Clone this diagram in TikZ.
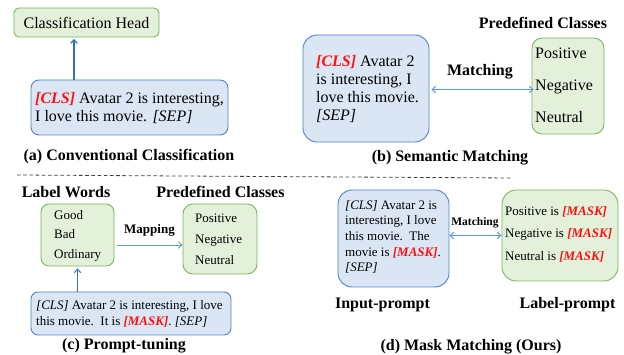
\documentclass[tikz,border=0pt]{standalone}
\usepackage{fontspec}
\setmainfont{Liberation Serif}
\usetikzlibrary{arrows.meta}

\definecolor{bfill}{HTML}{DAE6F4}
\definecolor{bbord}{HTML}{4F81CF}
\definecolor{gfill}{HTML}{E3F0DA}
\definecolor{gbord}{HTML}{7AB755}
\definecolor{arrA}{HTML}{2E75B6}
\definecolor{arrB}{HTML}{5B9BD5}
\definecolor{mred}{HTML}{FF1010}

% special tokens printed in bold italic red, or plain italic
\newcommand{\redtok}[1]{\textcolor{mred}{\textbf{\textit{#1}}}}
\newcommand{\itok}[1]{\textit{#1}}

\tikzset{
  bluebox/.style={draw=bbord, fill=bfill, line width=0.9pt, inner sep=0pt},
  greenbox/.style={draw=gbord, fill=gfill, line width=0.9pt, inner sep=0pt},
  txt/.style={inner sep=0pt, align=left, anchor=north west},
  lbl/.style={inner sep=0pt, anchor=base, font=\fontsize{16}{18}\selectfont\bfseries},
  barb/.tip={Straight Barb[length=3.5pt,width=6.5pt]},
  conn/.style={line width=1pt, draw=arrB},
}

\begin{document}
\begin{tikzpicture}[x=1pt,y=-1pt]
\useasboundingbox (0,0) rectangle (624,355);

% ---------------- (a) conventional classification
\node[greenbox, rounded corners=5pt, minimum width=145pt, minimum height=29pt]
  (head) at (86.5,22.5) {};
\node[inner sep=0pt, font=\fontsize{16}{18}\selectfont] (headt) at (head.center) {Classification Head};
\node[bluebox, rounded corners=8pt, minimum width=197pt, minimum height=55pt]
  (ina) at (129.5,107.5) {};
\node[txt, font=\fontsize{16}{18}\selectfont] (inat) at (35,92)
  {\redtok{[CLS]} Avatar 2 is interesting,\\ I love this movie. \itok{[SEP]}};
\coordinate (ax) at (74,60);
\draw[conn, line width=1.2pt, draw=arrA, -barb] (ax |- ina.north) -- ([yshift=-1.5pt]ax |- head.south);
\node[lbl] (capa) at (129,161) {(a) Conventional Classification};

% separator
\draw[line width=0.8pt, draw=black!75, dash pattern=on 3.6pt off 2.6pt] (17,175) -- (512,178);

% ---------------- (b) semantic matching
\node[bluebox, rounded corners=14pt, minimum width=126pt, minimum height=107pt]
  (inb) at (366,88.5) {};
\node[txt, font=\fontsize{16}{18.2}\selectfont] (inbt) at (316,55)
  {\redtok{[CLS]} Avatar 2\\ is interesting, I\\ love this movie.\\ \itok{[SEP]}};
\node[lbl] (pcb) at (543,29) {Predefined Classes};
\node[greenbox, rounded corners=10pt, minimum width=72pt, minimum height=96pt]
  (clb) at (568,86) {};
\node[txt, font=\fontsize{16}{32}\selectfont] (clbt) at (535,48)
  {Positive\\ Negative\\ Neutral};
\node[lbl] (mb) at (480,76) {Matching};
\draw[conn, barb-barb] ([xshift=2pt,yshift=-1pt]inb.east) -- ([xshift=2pt,yshift=-1pt]inb.east -| clb.west);
\node[lbl] (capb) at (450,162) {(b) Semantic Matching};

% ---------------- (c) prompt-tuning
\node[lbl] (lwc) at (66,198) {Label Words};
\node[lbl] (pcc) at (220.5,198) {Predefined Classes};
\node[greenbox, rounded corners=8pt, minimum width=73pt, minimum height=62pt]
  (lw) at (77.5,235) {};
\node[txt, font=\fontsize{13}{19.5}\selectfont] (lwt) at (54,210)
  {Good\\ Bad\\ Ordinary};
\node[greenbox, rounded corners=10pt, minimum width=74pt, minimum height=70pt]
  (pc) at (220,239) {};
\node[txt, font=\fontsize{13}{21}\selectfont] (pct) at (195,213.5)
  {Positive\\ Negative\\ Neutral};
\node[lbl, font=\fontsize{13}{15}\selectfont\bfseries] (mapc) at (149.5,234) {Mapping};
\draw[conn, line width=0.9pt, -barb] ([xshift=3pt,yshift=-10pt]lw.east) -- ([yshift=-10pt]lw.east -| pc.west);
\node[bluebox, rounded corners=7pt, minimum width=200pt, minimum height=43pt]
  (inc) at (131,313.5) {};
\node[txt, font=\fontsize{13}{16}\selectfont] (inct) at (36,300)
  {\itok{[CLS]} Avatar 2 is interesting, I love\\ this movie.\ \ It is \redtok{[MASK]}. \itok{[SEP]}};
\draw[conn, draw=arrA, -barb] (lw.south |- inc.north) -- ([yshift=-2pt]lw.south);
\node[lbl] (capc) at (124,350) {(c) Prompt-tuning};

% ---------------- (d) mask matching
\node[bluebox, rounded corners=14pt, minimum width=111pt, minimum height=97pt]
  (ind) at (393.5,238.5) {};
\node[txt, font=\fontsize{13}{15.6}\selectfont] (indt) at (345,200)
  {\itok{[CLS]} Avatar 2 is\\ interesting, I love\\ this movie.\ \ The\\ movie is \redtok{[MASK]}.\\ \itok{[SEP]}};
\node[greenbox, rounded corners=14pt, minimum width=116pt, minimum height=91pt]
  (lpd) at (560,235.5) {};
\node[txt, font=\fontsize{13}{22.5}\selectfont] (lpdt) at (505,206)
  {Positive is \redtok{[MASK]}\\ Negative is \redtok{[MASK]}\\ Neutral is \redtok{[MASK]}};
\node[lbl, font=\fontsize{11.5}{13}\selectfont\bfseries] (md) at (475,226) {Matching};
\draw[conn, barb-barb] (ind.east |- lpd.west) -- (lpd.west);
\node[lbl] (ipd) at (382.5,309) {Input-prompt};
\node[lbl] (lpl) at (567.5,309) {Label-prompt};
\node[lbl] (capd) at (471,351) {(d) Mask Matching (Ours)};

\end{tikzpicture}
\end{document}
